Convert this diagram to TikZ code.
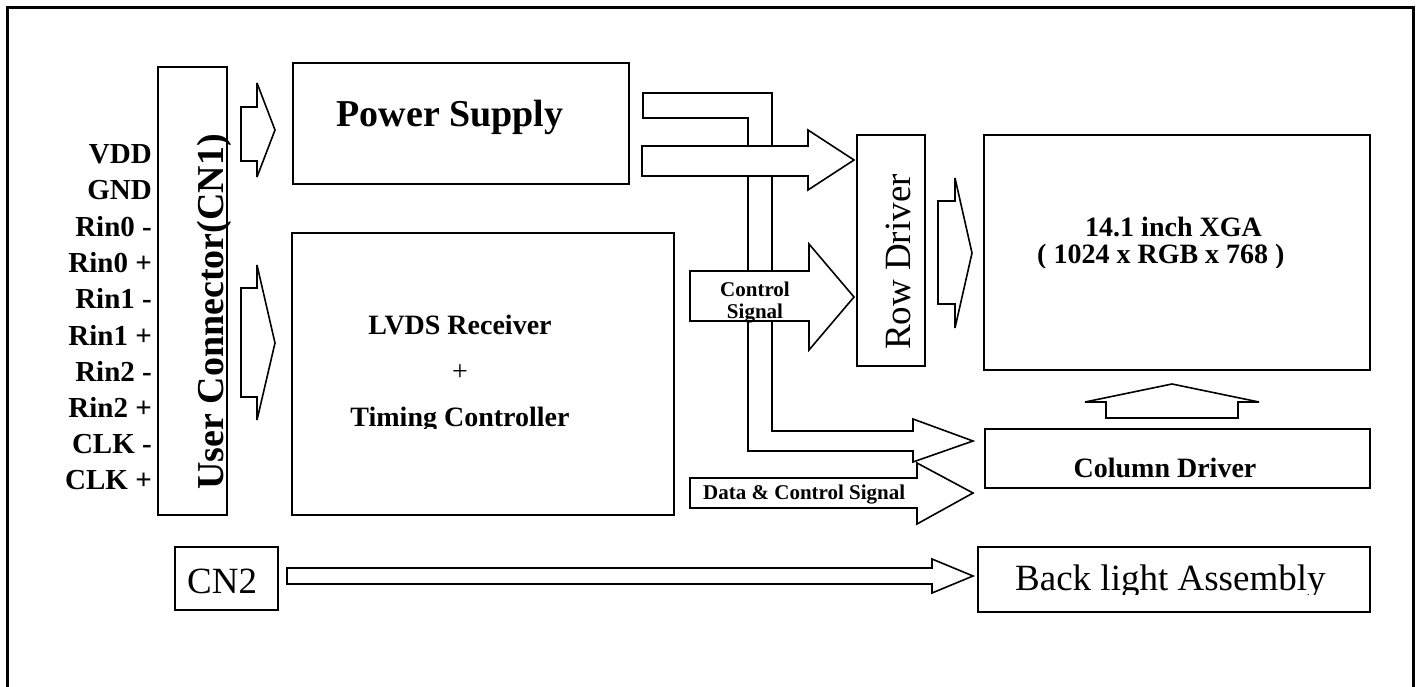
\documentclass[tikz,border=0pt]{standalone}
\usepackage{fontspec}
\setmainfont{Liberation Serif}
\usetikzlibrary{fit}
\begin{document}
\begin{tikzpicture}[x=1pt,y=-1pt,
  box/.style={draw, line width=1.6pt, inner sep=0pt, outer sep=0pt},
  blk/.style={draw, fill=white, line width=1.6pt, line join=miter, miter limit=5},
  pin/.style={anchor=base east, font=\fontsize{29}{34}\selectfont\bfseries, inner sep=0pt},
  bigbold/.style={font=\fontsize{38}{44}\selectfont\bfseries, inner sep=0pt},
  bigreg/.style={font=\fontsize{37}{44}\selectfont, inner sep=0pt},
  midbold/.style={font=\fontsize{28}{34}\selectfont\bfseries, inner sep=0pt},
  smallbold/.style={font=\fontsize{21}{22}\selectfont\bfseries, inner sep=0pt}]
\useasboundingbox (0,0) rectangle (1418,687);
% outer frame (open at the bottom)
\draw[line width=3pt] (7,687) -- (7,8) -- (1413,8) -- (1413,687);

% boxes
\node[box, fit={(158,67) (227,515)}] (uc) {};
\node[box, fit={(293,63) (629,184)}] (ps) {};
\node[box, fit={(292,233) (674,515)}] (lvds) {};
\node[box, fit={(857,135) (925,366)}] (row) {};
\node[box, fit={(984,135) (1370,370)}] (xga) {};
\node[box, fit={(985,429) (1370,488)}] (col) {};
\node[box, fit={(175,547) (278,610)}] (cn2) {};
\node[box, fit={(978,547) (1370,612)}] (bl) {};

% pin labels
\node[pin] (p1) at (152,164) {VDD};
\node[pin] (p2) at (152,200) {GND};
\node[pin] (p3) at (152,236) {Rin0 -};
\node[pin] (p4) at (152,272) {Rin0 +};
\node[pin] (p5) at (152,308) {Rin1 -};
\node[pin] (p6) at (152,345) {Rin1 +};
\node[pin] (p7) at (152,381) {Rin2 -};
\node[pin] (p8) at (152,417) {Rin2 +};
\node[pin] (p9) at (152,453) {CLK -};
\node[pin] (p10) at (152,489) {CLK +};

% box texts
\node[bigbold, rotate=90, anchor=base] (uct) at (223,312) {User Connector(CN1)};
\node[bigbold, anchor=base] (pst) at (450,127) {Power Supply};
\node[midbold, anchor=base] (lv1) at (460,334) {LVDS Receiver};
\node[font=\fontsize{28}{34}\selectfont, inner sep=0pt, anchor=base] (lv2) at (460,380) {+};
\begin{scope}
  \clip (0,0) rectangle (1418,428);
  \node[midbold, anchor=base] (lv3) at (460,426) {Timing Controller};
\end{scope}
\node[bigreg, rotate=90, anchor=base] (rowt) at (910,262) {Row Driver};
\node[midbold, anchor=base west] (x1) at (1085,236) {14.1 inch XGA};
\begin{scope}
  \clip (0,0) rectangle (1418,267);
  \node[midbold, anchor=base west] (x2) at (1037,263) {( 1024 x RGB x 768 )};
\end{scope}
\node[midbold, anchor=base] (colt) at (1165,477) {Column Driver};
\node[bigreg, anchor=base west] (cn2t) at (187,593) {CN2};
\begin{scope}
  \clip (0,0) rectangle (1418,594);
  \node[bigreg, anchor=base west] (blt) at (1015,590) {Back light Assembly};
\end{scope}

% block arrows: connector to power supply / LVDS
\draw[blk] (241,107) -- (257,107) -- (257,83) -- (275,130) -- (257,177) -- (257,161) -- (241,161) -- cycle;
\draw[blk] (241,288) -- (257,288) -- (257,265) -- (275,343) -- (257,420) -- (257,397) -- (241,397) -- cycle;

% bus from power supply down to column driver
\draw[blk] (643,93) -- (772,93) -- (772,431) -- (913,431) -- (913,419) -- (973,441)
  -- (913,462) -- (913,451) -- (748,451) -- (748,118) -- (643,118) -- cycle;
% power to row driver
\draw[blk] (642,146) -- (808,146) -- (808,130) -- (854,160) -- (808,190) -- (808,176) -- (642,176) -- cycle;
% control signal to row driver
\draw[blk] (690,271) -- (809,271) -- (809,244) -- (854,297) -- (809,350) -- (809,321) -- (690,321) -- cycle;
\node[smallbold, anchor=base] (cs1) at (755,296) {Control};
\node[smallbold, anchor=base] (cs2) at (755,318) {Signal};
% data & control signal to column driver
\draw[blk] (690,478) -- (917,478) -- (917,463) -- (973,493) -- (917,524) -- (917,508) -- (690,508) -- cycle;
\node[smallbold, anchor=base west] (dcs) at (703,499) {Data \& Control Signal};

% row driver to panel
\draw[blk] (938,201) -- (955,201) -- (955,178) -- (972,253) -- (955,328) -- (955,304) -- (938,304) -- cycle;
% column driver up to panel
\draw[blk] (1106,418) -- (1106,402) -- (1085,402) -- (1172,384) -- (1259,402) -- (1238,402) -- (1238,418) -- cycle;
% CN2 to backlight
\draw[blk] (287,568) -- (932,568) -- (932,559) -- (973,576) -- (932,593) -- (932,584) -- (287,584) -- cycle;
\end{tikzpicture}
\end{document}
